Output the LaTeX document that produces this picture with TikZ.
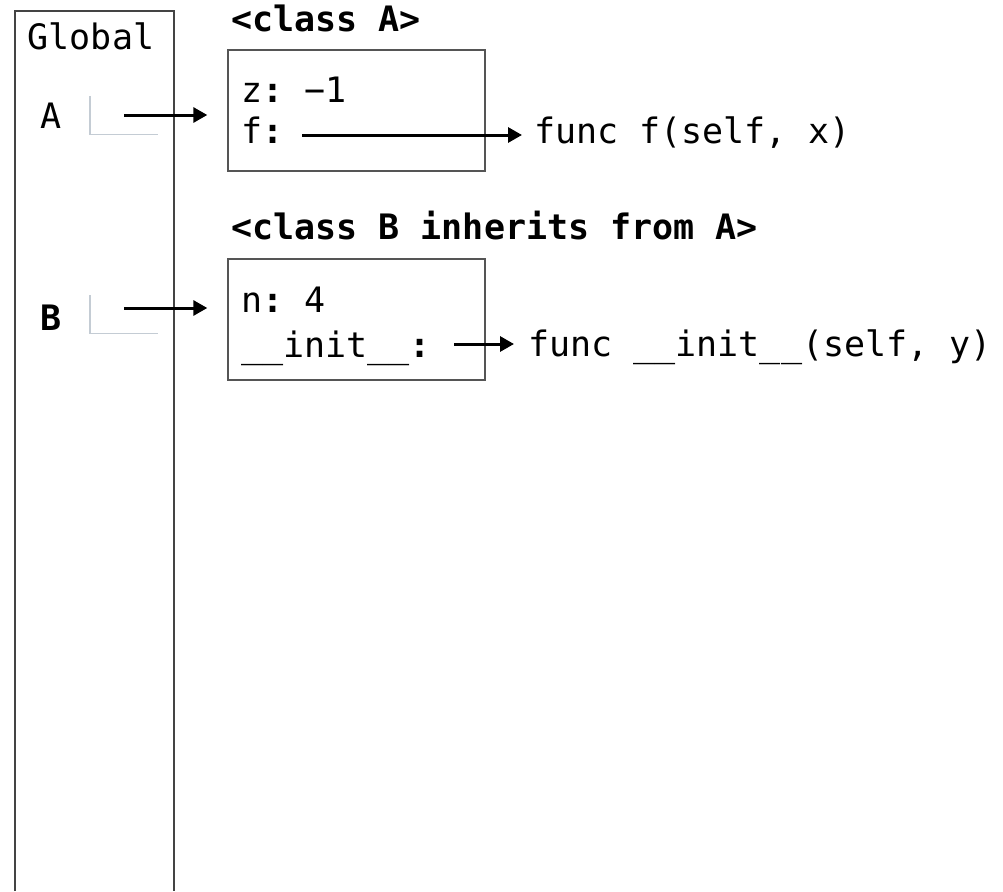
\documentclass[tikz,border=0pt]{standalone}
\usepackage{fontspec}
\setmonofont{DejaVu Sans Mono}
\usetikzlibrary{arrows.meta}
\definecolor{framegray}{HTML}{444444}
\definecolor{boxgray}{HTML}{555555}
\definecolor{cellgray}{HTML}{C4CCD4}
\newcommand{\bcolon}{\textbf{:}}
\begin{document}
\begin{tikzpicture}[x=1pt,y=-1pt,
  code/.style={inner sep=0pt, anchor=base west, font=\fontsize{35}{42}\selectfont\ttfamily},
  boldcode/.style={code, font=\fontsize{35}{42}\selectfont\ttfamily\bfseries},
  framestroke/.style={draw=framegray, line width=1.4pt},
  objbox/.style={draw=boxgray, line width=1.4pt, rectangle, inner sep=0pt,
    minimum width=257pt, minimum height=121pt},
  cell/.style={rectangle, inner sep=0pt, minimum width=68pt, minimum height=38pt},
  cellmark/.style={draw=cellgray, line width=1.4pt},
  ptr/.style={-{Triangle[length=14pt,width=15pt]}, line width=3pt, black},
]
\useasboundingbox (0,0) rectangle (1003,891);

% global frame, open at the bottom
\draw[framestroke] (15,891) |- (174,11) -- (174,891);
\node[code, anchor=base] (gtitle) at (91,50) {Global};

% variable names and their cells
\node[code] (nameA) at (40,128) {A};
\node[boldcode] (nameB) at (40,330) {B};
\node[cell] (cellA) at (124,115) {};
\node[cell] (cellB) at (124,314.5) {};
\draw[cellmark] (cellA.north west) |- (cellA.south east);
\draw[cellmark] (cellB.north west) |- (cellB.south east);

% class A
\node[boldcode] (titleA) at (231,32) {<class A>};
\node[objbox] (boxA) at (356.5,110.5) {};
\node[code] (attrZ) at (241,102) {z\bcolon{} −1};
\node[code] (attrF) at (241,143) {f\bcolon};
\coordinate (fstart) at (302,135);
\node[code] (funcF) at (534,143) {func f(self, x)};

% class B
\node[boldcode] (titleB) at (231,239) {<class B inherits from A>};
\node[objbox] (boxB) at (356.5,319.5) {};
\node[code] (attrN) at (241,312) {n\bcolon{} 4};
\node[code] (attrInit) at (241,357) {\_\_init\_\_\bcolon};
\coordinate (initstart) at (454,344);
\node[code] (funcInit) at (528,356) {func \_\_init\_\_(self, y)};

% pointers
\draw[ptr, shorten >=20pt] (cellA.center) -- (cellA.center -| boxA.west);
\draw[ptr, shorten >=20pt] ([yshift=6.5pt]cellB.center) -- ([yshift=6.5pt]cellB.center -| boxB.west);
\draw[ptr, shorten >=12pt] (fstart) -- (fstart -| funcF.west);
\draw[ptr, shorten >=14pt] (initstart) -- (initstart -| funcInit.west);
\end{tikzpicture}
\end{document}
